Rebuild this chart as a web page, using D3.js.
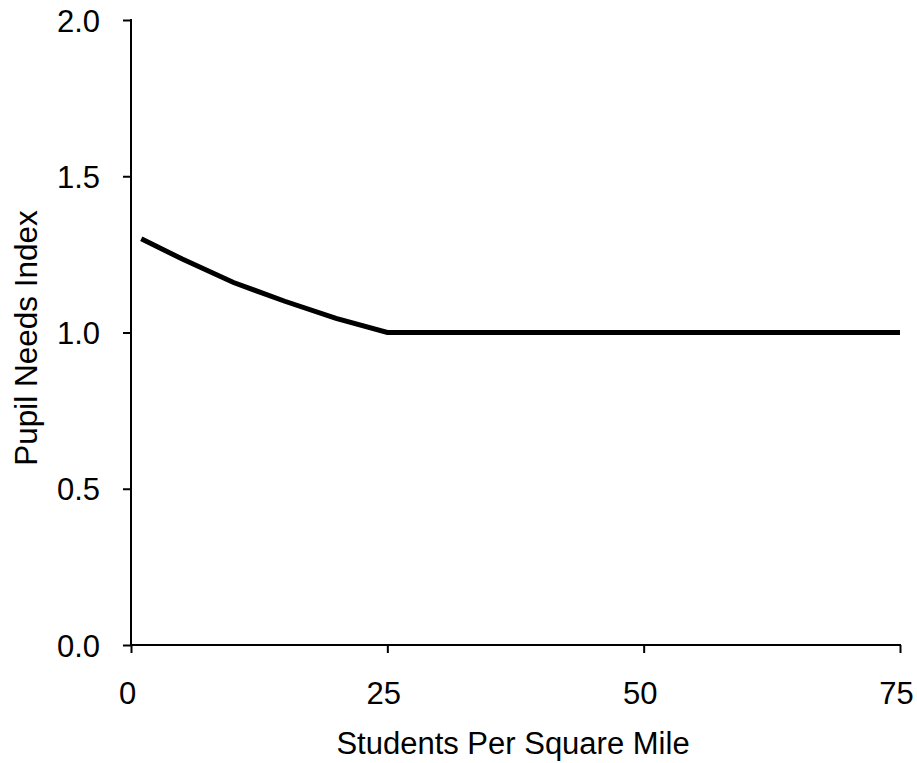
<!DOCTYPE html>
<html><head><meta charset="utf-8">
<script src="https://cdn.jsdelivr.net/npm/d3@7"></script>
<style>body{margin:0;background:#fff}svg{display:block}text{font-family:"Liberation Sans",Arial,sans-serif;fill:#000}</style>
</head><body><svg id="c" width="917" height="763"></svg>
<script>
const xValues = [1, 5, 10, 15, 20, 25, 75];
const yValues = [1.3, 1.235, 1.16, 1.1, 1.045, 1.0, 1.0];
const xTicks = [0, 25, 50, 75];
const yTicks = [0, 0.5, 1.0, 1.5, 2.0];
const xTitle = "Students Per Square Mile";
const yTitle = "Pupil Needs Index";

const svg = d3.select("#c");
const x = d3.scaleLinear().domain([0, 75]).range([131, 900]);
const y = d3.scaleLinear().domain([0, 2]).range([645, 20]);

const gx = svg.append("g").attr("transform", "translate(0,645)")
  .call(d3.axisBottom(x).tickValues(xTicks).tickFormat(d3.format("d")).tickSizeOuter(0).tickSize(8).tickPadding(29));
const gy = svg.append("g").attr("transform", "translate(131,0)")
  .call(d3.axisLeft(y).tickValues(yTicks).tickFormat(d3.format(".1f")).tickSizeOuter(0).tickSize(8).tickPadding(23));
[gx, gy].forEach(g => {
  g.attr("font-size", 31).attr("font-family", "Liberation Sans, Arial, sans-serif");
  g.select(".domain").attr("stroke", "#000").attr("stroke-width", 2);
  g.selectAll(".tick line").attr("stroke", "#000").attr("stroke-width", 2);
  g.selectAll(".tick text").attr("fill", "#000");
});
gx.selectAll(".tick text").attr("dx", -4);
gy.selectAll(".tick text").attr("dy", "0.36em");
gy.select(".domain").attr("d", "M0,645V19");
gx.select(".domain").attr("d", "M131,0H901");

svg.append("path")
  .datum(xValues.map((d, i) => [d, yValues[i]]))
  .attr("fill", "none").attr("stroke", "#000").attr("stroke-width", 5)
  .attr("d", d3.line().x(d => x(d[0])).y(d => y(d[1])));

svg.append("text").attr("x", 513).attr("y", 754).attr("text-anchor", "middle")
  .attr("font-size", 31).text(xTitle);
svg.append("text").attr("transform", "translate(37,338) rotate(-90)").attr("text-anchor", "middle")
  .attr("font-size", 31.5).text(yTitle);
</script></body></html>
